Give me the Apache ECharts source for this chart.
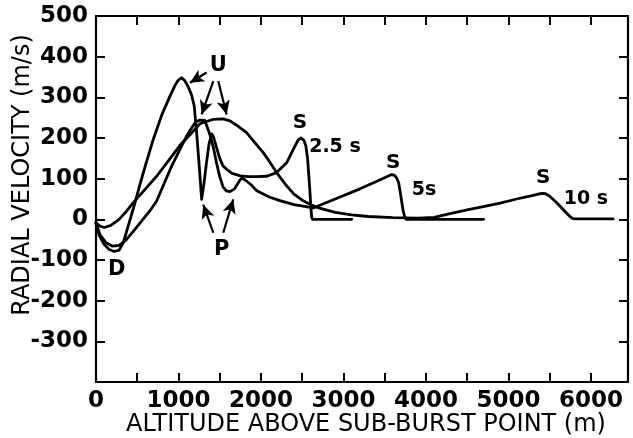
<!DOCTYPE html>
<html><head><meta charset="utf-8">
<script src="https://cdn.jsdelivr.net/npm/echarts@6/dist/echarts.min.js"></script>
<style>html,body{margin:0;padding:0;background:#fff}#c{width:633px;height:438px}</style>
</head><body><div id="c"></div>
<script>
// ---- data (altitude m, radial velocity m/s) ----
const alt25 = [0,40,100,160,220,280,330,400,473,533,600,695,800,897,960,1000,1040,1080,1120,1160,1190,1220,1250,1281,1310,1340,1370,1402,1420,1450,1500,1540,1584,1650,1750,1850,1950,2070,2190,2311,2392,2450,2485,2520,2545,2565,2590,2605,2615,2625,3100];
const vel25 = [-10,-40,-62,-74,-79,-76,-58,-10,41,86,133,197,258,303,330,343,348,340,325,305,280,213,135,49,90,140,185,210,205,185,150,131,123,113,107,105,105,106,115,139,172,195,200,195,180,150,80,30,5,0,0];

const alt5 = [0,50,120,200,280,360,450,550,650,735,830,920,1018,1100,1160,1210,1260,1320,1370,1400,1430,1460,1500,1540,1580,1624,1680,1740,1770,1800,1880,1950,2100,2230,2400,2634,2900,3200,3400,3584,3620,3650,3670,3690,3705,3725,3745,3760,4700];
const vel5 = [-10,-38,-57,-66,-64,-52,-30,-5,20,45,90,132,172,205,225,240,244,243,215,195,170,140,105,80,70,68,75,95,102,98,85,70,55,46,36,28,50,75,93,110,108,100,90,65,45,20,5,0,0];

const alt10 = [0,40,100,180,280,370,452,600,735,900,1018,1139,1260,1422,1543,1624,1700,1826,1900,2028,2110,2190,2300,2400,2500,2594,2700,2900,3100,3300,3600,3900,4100,4291,4500,4695,4900,5100,5300,5400,5450,5500,5580,5664,5730,5770,5800,6270];
const vel10 = [-8,-16,-20,-15,0,20,41,75,106,150,182,208,235,246,247,242,232,213,195,164,140,115,85,62,47,37,28,17,11,7,4,3,5,14,23,31,40,50,59,64,63,57,42,24,10,3,1,1];

const xTickLabels = [0,1000,2000,3000,4000,5000,6000];
const yTickLabels = [-300,-200,-100,0,100,200,300,400,500];

// annotations in data coordinates
const arrowFrom = [[1342,361],[1422,340],[1482,340],[1422,-33],[1543,-33]];
const arrowTo   = [[1139,336],[1281,258],[1584,258],[1301,36],[1664,49]];
const noteText = ['U','P','D','S','S','S','2.5 s','5s','10 s'];
const notePos  = [[1482,377],[1524,-74],[251,-124],[2473,238],[3604,139],[5422,102],[2897,177],[3976,73],[5939,49]];
const noteSize = [21,21,21,20,20,20,19,19,19];

const FONT = 'DejaVu Sans';
const chart = echarts.init(document.getElementById('c'), null, {renderer:'canvas'});
const pair = (a,b)=>a.map((x,i)=>[x,b[i]]);
const lineSeries = (name, a, b, extra) => Object.assign({
  name, type:'line', data:pair(a,b), showSymbol:false, symbol:'none', smooth:false,
  xAxisIndex:0, yAxisIndex:0, lineStyle:{color:'#000', width:2.8, join:'round', cap:'round'}, itemStyle:{color:'#000'},
  animation:false, z:3
}, extra||{});

const axisCommon = {
  axisLine:{show:true, onZero:false, lineStyle:{color:'#000', width:2.2}},
  axisTick:{show:true, inside:true, length:9, lineStyle:{color:'#000', width:2}},
  splitLine:{show:false}
};

chart.setOption({
  animation:false,
  backgroundColor:'#fff',
  grid:{left:96, right:5, top:16, bottom:56, containLabel:false},
  xAxis:[
    Object.assign({type:'value', min:0, max:6450, interval:500, position:'bottom',
      axisLabel:{show:true, margin:8, color:'#000', fontFamily:FONT, fontWeight:'bold', fontSize:23,
        formatter:v=> xTickLabels.includes(v) ? String(v) : ''}}, axisCommon),
    Object.assign({type:'value', min:0, max:6450, interval:500, position:'top',
      axisLabel:{show:false}}, axisCommon)
  ],
  yAxis:[
    Object.assign({type:'value', min:-400, max:500, interval:100, position:'left',
      axisLabel:{show:true, margin:8, color:'#000', fontFamily:FONT, fontWeight:'bold', fontSize:23,
        formatter:v=> yTickLabels.includes(v) ? String(v) : ''}}, axisCommon),
    Object.assign({type:'value', min:-400, max:500, interval:100, position:'right',
      axisLabel:{show:false}}, axisCommon)
  ],
  series:[
    lineSeries('2.5 s', alt25, vel25),
    lineSeries('5 s', alt5, vel5),
    lineSeries('10 s', alt10, vel10, {
      markLine:{silent:true, animation:false, symbol:['none','arrow'], symbolSize:[10,14],
        lineStyle:{color:'#000', width:2.2, type:'solid'}, label:{show:false},
        emphasis:{disabled:true},
        data: arrowFrom.map((f,i)=>[{coord:f},{coord:arrowTo[i]}])}
    })
  ]
});

const texts = noteText.map((t,i)=>{
  const p = chart.convertToPixel({xAxisIndex:0, yAxisIndex:0}, notePos[i]);
  return {type:'text', x:p[0], y:p[1], style:{text:t, fill:'#000', font:'bold '+noteSize[i]+'px '+FONT, textAlign:'center', textVerticalAlign:'middle'}};
});
texts.push({type:'text', x:366, y:425, style:{text:'ALTITUDE ABOVE SUB-BURST POINT (m)', fill:'#000', font:'24px '+FONT, textAlign:'center', textVerticalAlign:'middle'}});
texts.push({type:'text', x:23, y:175, rotation:Math.PI/2, style:{text:'RADIAL VELOCITY (m/s)', fill:'#000', font:'24px '+FONT, textAlign:'center', textVerticalAlign:'middle'}});
chart.setOption({graphic:texts});
</script></body></html>
